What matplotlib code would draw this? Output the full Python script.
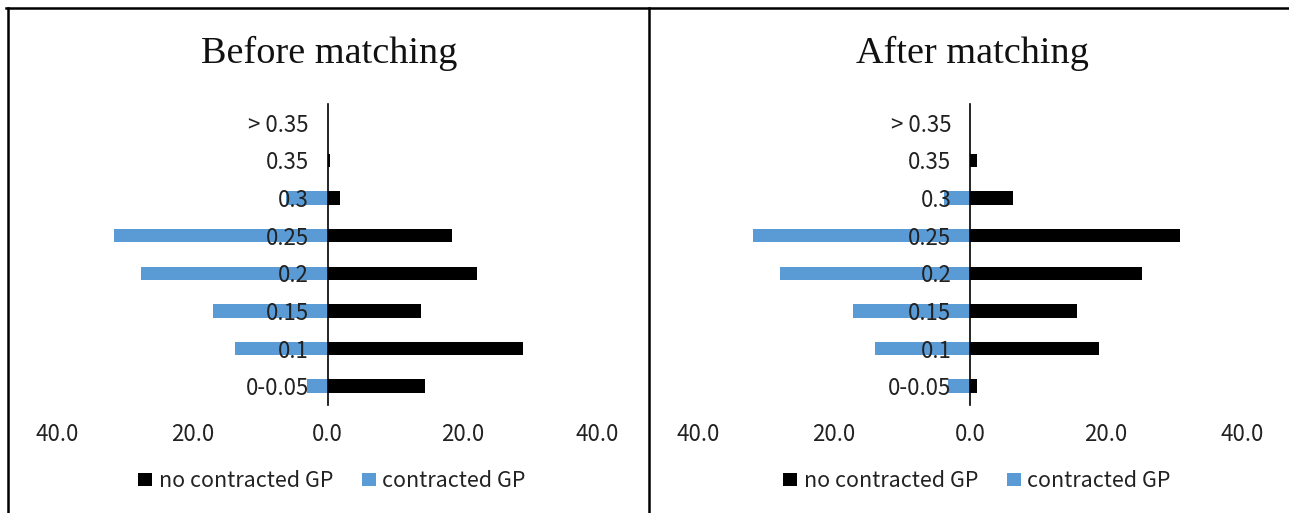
import matplotlib
matplotlib.use("Agg")
import matplotlib.pyplot as plt
from matplotlib.patches import Patch
from matplotlib.lines import Line2D
from matplotlib.ticker import FuncFormatter

categories = ["0-0.05", "0.1", "0.15", "0.2", "0.25", "0.3", "0.35", "> 0.35"]
before_no_gp = [14.4, 28.9, 13.8, 22.2, 18.5, 1.9, 0.4, 0.0]
before_gp = [3.0, 13.7, 16.9, 27.7, 31.7, 6.2, 0.0, 0.0]
after_no_gp = [1.0, 19.0, 15.8, 25.3, 30.9, 6.3, 1.0, 0.0]
after_gp = [3.2, 14.0, 17.2, 27.9, 31.9, 3.8, 0.0, 0.0]
titles = ["Before matching", "After matching"]
series_names = ["no contracted GP", "contracted GP"]
xticks = [-40, -20, 0, 20, 40]

BLACK = "#000000"
BLUE = "#5B9BD5"
TEXT_FONT = ["Noto Sans CJK SC", "DejaVu Sans"]
TITLE_FONT = ["Liberation Serif", "DejaVu Serif"]

W, H = 1289, 513
fig = plt.figure(figsize=(W / 100, H / 100), dpi=100)
plt.rcParams["font.family"] = TEXT_FONT

panels = [
    (titles[0], before_no_gp, before_gp, (57.5, 597.5), 332),
    (titles[1], after_no_gp, after_gp, (698.0, 1242.0), 977),
]
y_top_px, y_bot_px = 104.0, 405.0

for title, no_gp, gp, (xl, xr), leg_cx in panels:
    ax = fig.add_axes([xl / W, 1 - y_bot_px / H, (xr - xl) / W, (y_bot_px - y_top_px) / H])
    ypos = list(range(len(categories)))
    ax.barh(ypos, no_gp, height=0.36, color=BLACK, zorder=1)
    ax.barh(ypos, [-v for v in gp], height=0.36, color=BLUE, zorder=1)
    ax.set_xlim(-40, 40)
    ax.set_ylim(-0.5, len(categories) - 0.5)
    ax.set_yticks(ypos)
    ax.set_yticklabels(categories)
    ax.set_xticks(xticks)
    ax.xaxis.set_major_formatter(FuncFormatter(lambda v, p: f"{abs(v):.1f}"))
    for s in ["top", "right", "bottom"]:
        ax.spines[s].set_visible(False)
    ax.spines["left"].set_position(("data", 0))
    ax.spines["left"].set_linewidth(1.2)
    ax.spines["left"].set_zorder(3)
    ax.tick_params(axis="y", length=0, pad=13.5, labelsize=16, colors="#222222")
    ax.tick_params(axis="x", length=0, pad=13, labelsize=16, colors="#222222")
    ax.set_facecolor("none")
    cx = ((xl + xr) / 2) / W
    fig.text(cx + 2 / W, 1 - 62.7 / H, title, ha="center", va="baseline",
             fontsize=27.5, family=TITLE_FONT, color="#111111")
    handles = [Patch(facecolor=BLACK, edgecolor="none"), Patch(facecolor=BLUE, edgecolor="none")]
    fig.legend(handles, series_names, loc="center", bbox_to_anchor=(leg_cx / W, 1 - 481 / H),
               bbox_transform=fig.transFigure, ncol=2, frameon=False,
               handlelength=0.65, handleheight=0.6, handletextpad=0.3,
               columnspacing=1.35, prop={"family": TEXT_FONT, "size": 15.5},
               labelcolor="#222222")

# panel frames
lw = 1.8
fig.add_artist(Line2D([6 / W, 1.0], [1 - 8 / H, 1 - 8 / H], transform=fig.transFigure,
                      color="black", linewidth=lw))
for xp in (7.5, 648.5):
    fig.add_artist(Line2D([xp / W, xp / W], [0, 1 - 8 / H], transform=fig.transFigure,
                          color="black", linewidth=lw))

fig.savefig("out.png", dpi=100, facecolor="white")
